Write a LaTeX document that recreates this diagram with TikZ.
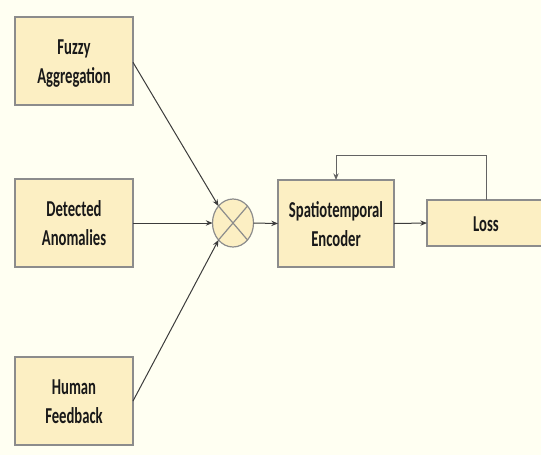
\documentclass[tikz,border=0pt]{standalone}
\usepackage{fontspec}
\setmainfont{Carlito}
\usetikzlibrary{shapes.geometric,arrows.meta}
\definecolor{paper}{HTML}{FFFFF2}
\definecolor{boxfill}{HTML}{FCEFC3}
\definecolor{boxline}{HTML}{8C8C8C}
\definecolor{wire}{HTML}{3C3C3C}
% label text: two tall bold lines, set slightly below the box centre
\newcommand{\lbl}[1]{\raisebox{-6pt}[0pt][0pt]{\scalebox{1}[1.55]{\begin{tabular}{@{}c@{}}#1\end{tabular}}}}
\tikzset{
  stage/.style={draw=boxline, line width=0.9pt, fill=boxfill, inner sep=0pt, outer sep=0pt,
    minimum width=88.5pt, minimum height=66pt, align=center,
    font=\fontsize{11}{14.2}\selectfont\bfseries, text=black!90},
  mixer/.style={ellipse, draw=boxline, line width=0.9pt, fill=boxfill, inner sep=0pt, outer sep=0pt,
    minimum width=30.75pt, minimum height=36pt},
  arr/.style={draw=wire, line width=0.75pt, -{Stealth[length=5pt,width=4pt]}}
}
\begin{document}
\begin{tikzpicture}[x=0.75pt, y=-0.75pt]
  \fill[paper] (0,0) rectangle (541,455);
  \clip (0,0) rectangle (541,455);

  \node[stage] (fuzzy) at (74,61) {\lbl{Fuzzy\\Aggregation}};
  \node[stage] (anom)  at (74,223) {\lbl{Detected\\Anomalies}};
  \node[stage] (human) at (74,401) {\lbl{Human\\Feedback}};
  \node[mixer] (mix) at (233,223) {};
  \draw[boxline, line width=0.9pt] (mix.north west) -- (mix.south east)
                                   (mix.north east) -- (mix.south west);
  \node[stage, minimum width=87pt, minimum height=65.25pt] (enc) at (336,223.5)
    {\lbl{Spatiotemporal\\Encoder}};
  \node[stage, minimum width=88.5pt, minimum height=34.5pt] (loss) at (486,223) {\lbl{Loss}};

  \draw[arr] ([yshift=-1pt]fuzzy.east) -- (mix.north west);
  \draw[arr] (anom.east) -- (mix.west);
  \draw[arr] (human.east) -- (mix.south west);
  \draw[arr] (mix.east) -- (enc.west);
  \draw[arr] (enc.east) -- (loss.west);

  \coordinate (fb) at (336,155);
  \draw[arr, draw=wire!80] (loss.north) |- (fb) -- (enc.north);
\end{tikzpicture}
\end{document}
